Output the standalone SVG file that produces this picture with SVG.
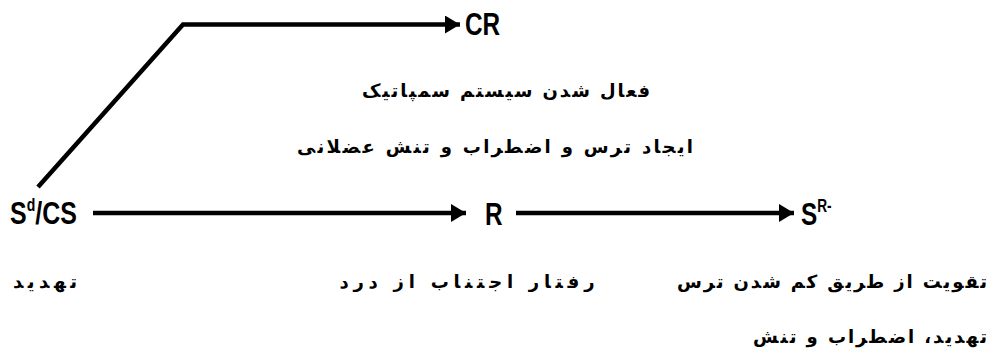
<svg xmlns="http://www.w3.org/2000/svg" width="991" height="354" viewBox="0 0 991 354">
  <style>
    .lat { font-family: "Liberation Sans", Arial, sans-serif; font-weight: bold; font-size: 32px; fill: #000; }
    .ar { font-family: "DejaVu Sans", "Noto Sans", sans-serif; font-weight: bold; font-size: 18px; fill: #000; text-anchor: middle; }
    .conn { fill: none; stroke: #000; stroke-width: 4.5; stroke-linejoin: miter; }
  </style>
  <defs>
    <marker id="arrow" markerUnits="userSpaceOnUse" markerWidth="16" markerHeight="18" refX="15" refY="9" orient="auto">
      <path d="M0,0 L15,9 L0,18 z" fill="#000"/>
    </marker>
  </defs>
  <rect width="991" height="354" fill="#fff"/>

  <g id="connectors">
    <path class="conn" d="M38,187 L183,24.5 L460,24.5" marker-end="url(#arrow)"/>
    <path class="conn" d="M93,213 L466,213" marker-end="url(#arrow)"/>
    <path class="conn" d="M516,213 L794,213" marker-end="url(#arrow)"/>
  </g>

  <g id="node-sdcs">
    <g transform="translate(10,224) scale(0.78,1)">
      <text class="lat" x="0" y="0">S<tspan font-size="18" dy="-13">d</tspan><tspan dy="13">/CS</tspan></text>
    </g>
  </g>
  <g id="node-cr">
    <g transform="translate(465,35) scale(0.76,1)">
      <text class="lat" x="0" y="0">CR</text>
    </g>
  </g>
  <g id="node-r">
    <g transform="translate(485,225) scale(0.76,1)">
      <text class="lat" x="0" y="0">R</text>
    </g>
  </g>
  <g id="node-sr">
    <g transform="translate(801,225) scale(0.76,1)">
      <text class="lat" x="0" y="0">S<tspan font-size="18" dy="-13">R-</tspan></text>
    </g>
  </g>

  <g id="labels">
    <text class="ar" x="506" y="97" textLength="288" lengthAdjust="spacing">فعال شدن سیستم سمپاتیک</text>
    <text class="ar" x="495" y="153" textLength="396" lengthAdjust="spacing">ایجاد ترس و اضطراب و تنش عضلانی</text>
    <text class="ar" x="45" y="288" textLength="64" lengthAdjust="spacing">تهدید</text>
    <text class="ar" x="467" y="288" textLength="255" lengthAdjust="spacing">رفتار اجتناب از درد</text>
    <text class="ar" x="832" y="288" textLength="310" lengthAdjust="spacing">تقویت از طریق کم شدن ترس</text>
    <text class="ar" x="870" y="343" textLength="234" lengthAdjust="spacing">تهدید، اضطراب و تنش</text>
  </g>
</svg>
